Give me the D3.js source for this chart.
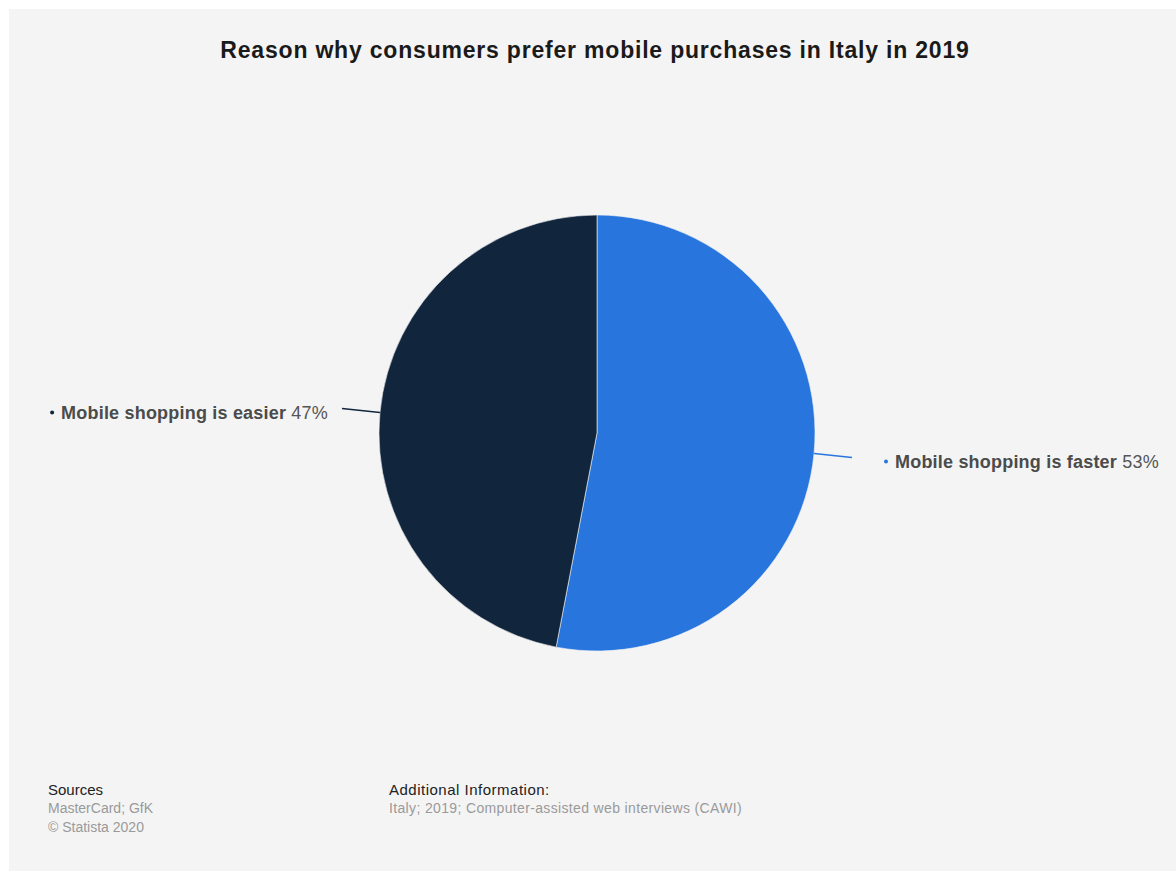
<!DOCTYPE html>
<html>
<head>
<meta charset="utf-8">
<script src="https://cdn.jsdelivr.net/npm/d3@7"></script>
<style>
  body { margin: 0; background: #ffffff; }
  text { font-family: "Liberation Sans", Arial, sans-serif; }
</style>
</head>
<body>
<div id="chart"></div>
<script>
/* data */
const reasons = ["Mobile shopping is faster", "Mobile shopping is easier"];
const shares = [53, 47];
const sliceColors = ["#2876dd", "#11263d"];

const title = "Reason why consumers prefer mobile purchases in Italy in 2019";
const sourceLines = ["MasterCard; GfK", "\u00a9 Statista 2020"];
const infoLines = ["Italy; 2019; Computer-assisted web interviews (CAWI)"];

/* dimensions */
const W = 1176, H = 871;
const cx = 597, cy = 433, radius = 218;

const svg = d3.select("#chart")
    .append("svg")
    .attr("width", W)
    .attr("height", H);

// grey panel
svg.append("rect")
    .attr("x", 9).attr("y", 9)
    .attr("width", W - 9).attr("height", H - 9)
    .attr("fill", "#f4f4f4");

// title
svg.append("text")
    .attr("x", 595).attr("y", 58)
    .attr("text-anchor", "middle")
    .style("font-size", "23px")
    .style("font-weight", "bold")
    .style("letter-spacing", "0.8px")
    .attr("fill", "#1a1a1a")
    .text(title);

const data = reasons.map((r, i) => ({ name: r, value: shares[i], color: sliceColors[i] }));

const pie = d3.pie().value(d => d.value).sort(null);
const arc = d3.arc().innerRadius(0).outerRadius(radius);
const arcs = pie(data);

const g = svg.append("g").attr("transform", `translate(${cx},${cy})`);

g.selectAll("path.slice")
    .data(arcs)
    .enter()
    .append("path")
    .attr("class", "slice")
    .attr("d", arc)
    .attr("fill", d => d.data.color)
    .attr("stroke", "#f4f4f4")
    .attr("stroke-width", 0.6);

/* connectors + labels */
const onEdge = function(a, r) {
    const m = (a.startAngle + a.endAngle) / 2;
    return [Math.sin(m) * r, -Math.cos(m) * r];
};

arcs.forEach(function(a) {
    const right = (a.startAngle + a.endAngle) / 2 < Math.PI;
    const p0 = onEdge(a, radius);
    const p1 = [right ? radius + 37 : -radius - 37, p0[1] + (right ? 4 : -4)];
    g.append("path")
        .attr("d", d3.line()([p0, p1]))
        .attr("fill", "none")
        .attr("stroke", a.data.color)
        .attr("stroke-width", 1.5);

    const ly = p1[1] + 10;
    const t = g.append("text")
        .attr("y", ly)
        .style("font-size", "18px")
        .style("letter-spacing", "0.2px")
        .attr("fill", "#4b4b4b");
    t.append("tspan").style("font-weight", "bold").text(a.data.name + " ");
    t.append("tspan").attr("fill", "#555").text(a.data.value + "%");

    const len = t.node().getComputedTextLength();
    const lx = right ? p1[0] + 43 : p1[0] - 14 - len;
    t.attr("x", lx);
    // bullet
    g.append("circle")
        .attr("cx", lx - 9).attr("cy", ly - 6)
        .attr("r", 2)
        .attr("fill", a.data.color);
});

/* footer */
const foot = svg.append("g");
foot.append("text").attr("x", 48).attr("y", 795)
    .style("font-size", "15px").attr("fill", "#222").text("Sources");
foot.selectAll("text.src")
    .data(sourceLines)
    .enter()
    .append("text")
    .attr("class", "src")
    .attr("x", 48)
    .attr("y", (d, i) => 813 + i * 19)
    .style("font-size", "14px")
    .attr("fill", "#9a9a9a")
    .text(d => d);

foot.append("text").attr("x", 389).attr("y", 795)
    .style("font-size", "15px").style("letter-spacing", "0.5px")
    .attr("fill", "#222").text("Additional Information:");
foot.selectAll("text.info")
    .data(infoLines)
    .enter()
    .append("text")
    .attr("class", "info")
    .attr("x", 389)
    .attr("y", (d, i) => 813 + i * 19)
    .style("font-size", "14px")
    .style("letter-spacing", "0.35px")
    .attr("fill", "#9a9a9a")
    .text(d => d);
</script>
</body>
</html>
